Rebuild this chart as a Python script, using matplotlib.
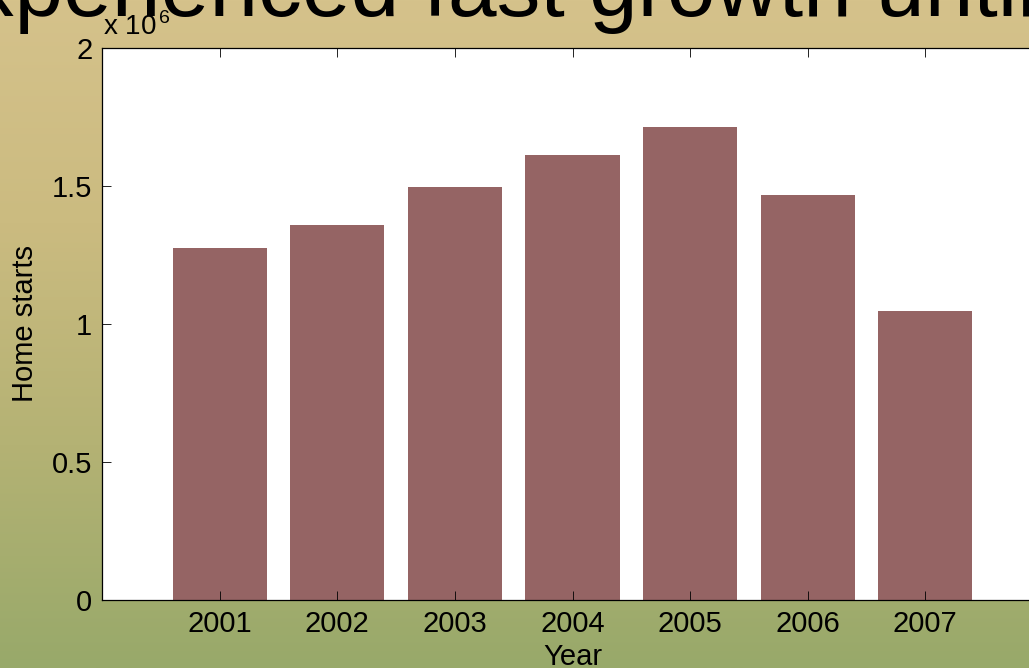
import numpy as np
import matplotlib
matplotlib.use('Agg')
import matplotlib.pyplot as plt
from matplotlib.colors import LinearSegmentedColormap
from matplotlib.ticker import FuncFormatter

plt.rcParams['font.family'] = ['Liberation Sans', 'DejaVu Sans']
plt.rcParams['mathtext.fontset'] = 'custom'
plt.rcParams['mathtext.rm'] = 'Liberation Sans'

# data
years = [2001, 2002, 2003, 2004, 2005, 2006, 2007]
starts = [1.275e6, 1.359e6, 1.496e6, 1.612e6, 1.714e6, 1.467e6, 1.047e6]
yticks = [0, 0.5e6, 1e6, 1.5e6, 2e6]

fig = plt.figure(figsize=(10.29, 6.68), dpi=100)

# gradient slide background
bg = fig.add_axes([0, 0, 1, 1], zorder=-10)
cmap = LinearSegmentedColormap.from_list('slide', ['#98a96a', '#b4b274', '#cbbb80', '#d5c28b'])
grad = np.linspace(0, 1, 256).reshape(-1, 1)
bg.imshow(grad, aspect='auto', cmap=cmap, origin='lower', extent=[0, 1, 0, 1])
bg.set_axis_off()

# slide title, cut off on both sides
fig.text(-78/1029, 1 - 16/668, 'experienced fast growth until', fontsize=63, va='baseline', ha='left')

ax = fig.add_axes([102/1029, 68/668, 941/1029, 552/668])
ax.set_facecolor('white')
ax.bar(years, starts, width=0.8, color='#956464')
ax.set_xlim(2000, 2008)
ax.set_ylim(0, 2e6)
ax.set_xticks(years)
ax.set_yticks(yticks)
ax.yaxis.set_major_formatter(FuncFormatter(lambda v, p: '%g' % (v / 1e6)))
ax.tick_params(direction='in', length=6.5, width=0.6, labelsize=21, top=True, right=True, pad=7)
for s in ax.spines.values():
    s.set_linewidth(0.9)
ax.set_xlabel('Year', fontsize=21, labelpad=4)
ax.set_ylabel('Home starts', fontsize=21, labelpad=9)
ax.text(0.001, 1.012, r'x 10$^{\,6}$', transform=ax.transAxes, fontsize=20, va='bottom', ha='left')

fig.savefig('out.png', dpi=100)
